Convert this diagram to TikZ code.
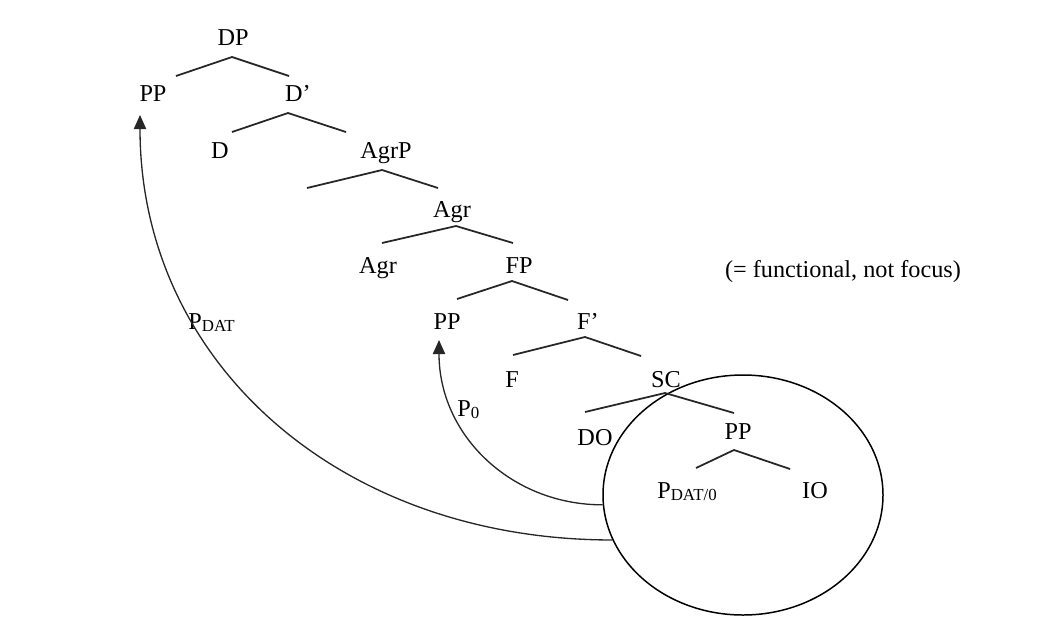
\documentclass[tikz,border=0pt]{standalone}
\usepackage{fontspec}
\setmainfont{Liberation Serif}
\usetikzlibrary{arrows.meta,shapes.geometric}
\newcommand\mysub[1]{\raisebox{-1.7pt}{\fontsize{9.6}{10}\selectfont #1}}
\begin{document}
\begin{tikzpicture}[x=0.02cm,y=-0.02cm,
  lbl/.style={anchor=base,inner sep=0pt,font=\fontsize{13.8}{16}\selectfont},
  br/.style={line width=1pt,draw=black!85},
  mv/.style={line width=0.75pt,draw=black!85,-{Triangle[length=8pt,width=7pt]}}]
\useasboundingbox (0,0) rectangle (1058,643);
% labels
\node[lbl] (DP)  at (233,45) {DP};
\node[lbl] (PPt) at (153,101) {PP};
\node[lbl] (Db)  at (298,101) {D’};
\node[lbl] (D)   at (220,158) {D};
\node[lbl] (AgrP) at (386,158) {AgrP};
\node[lbl] (Agrb) at (452,217) {Agr};
\node[lbl] (Agr) at (378,273) {Agr};
\node[lbl] (FP)  at (519,273) {FP};
\node[lbl] (PPm) at (447,329) {PP};
\node[lbl] (Fb)  at (588,329) {F’};
\node[lbl] (F)   at (512,387) {F};
\node[lbl] (SC)  at (666,387) {SC};
\node[lbl] (DO)  at (595,445) {DO};
\node[lbl] (PPl) at (738,439) {PP};
\node[lbl] (Pd)  at (687,498) {P\mysub{DAT/0}};
\node[lbl] (IO)  at (815,498) {IO};
\node[lbl] (cm)  at (843,277) {(= functional, not focus)};
\node[lbl,anchor=base west] (Ldat) at (188,329) {P\mysub{DAT}};
\node[lbl,anchor=base west] (Lzero) at (457,416) {P\mysub{0}};
% ellipse
\node[ellipse,draw,line width=0.85pt,minimum width=280*0.02cm,minimum height=240*0.02cm,inner sep=0pt] (circ) at (743,495) {};
% branch coordinates
\coordinate (a1) at (232,57);  \coordinate (l1) at (176,76);  \coordinate (r1) at (289,76);
\coordinate (a2) at (288,113); \coordinate (l2) at (232,132); \coordinate (r2) at (346,132);
\coordinate (a3) at (382,170); \coordinate (l3) at (307,188); \coordinate (r3) at (438,188);
\coordinate (a4) at (456,226); \coordinate (l4) at (382,243); \coordinate (r4) at (513,243);
\coordinate (a5) at (512,281); \coordinate (l5) at (457,299); \coordinate (r5) at (568,300);
\coordinate (a6) at (585,337); \coordinate (l6) at (513,355); \coordinate (r6) at (641,356);
\coordinate (a7) at (665,393); \coordinate (l7) at (585,412); \coordinate (r7) at (734,413);
\coordinate (a8) at (734,450); \coordinate (l8) at (696,468); \coordinate (r8) at (790,469);
\foreach \i in {1,...,8} {\draw[br] (l\i) -- (a\i) -- (r\i);}
% movement arrows
\coordinate (tipT) at (140,115);
\coordinate (tipM) at (439,340);
\draw[mv] (circ.184) .. controls (512,505) and (439,436) .. (tipM);
\draw[mv] (circ.199) .. controls (339,540) and (140,362) .. (tipT);
\end{tikzpicture}
\end{document}
